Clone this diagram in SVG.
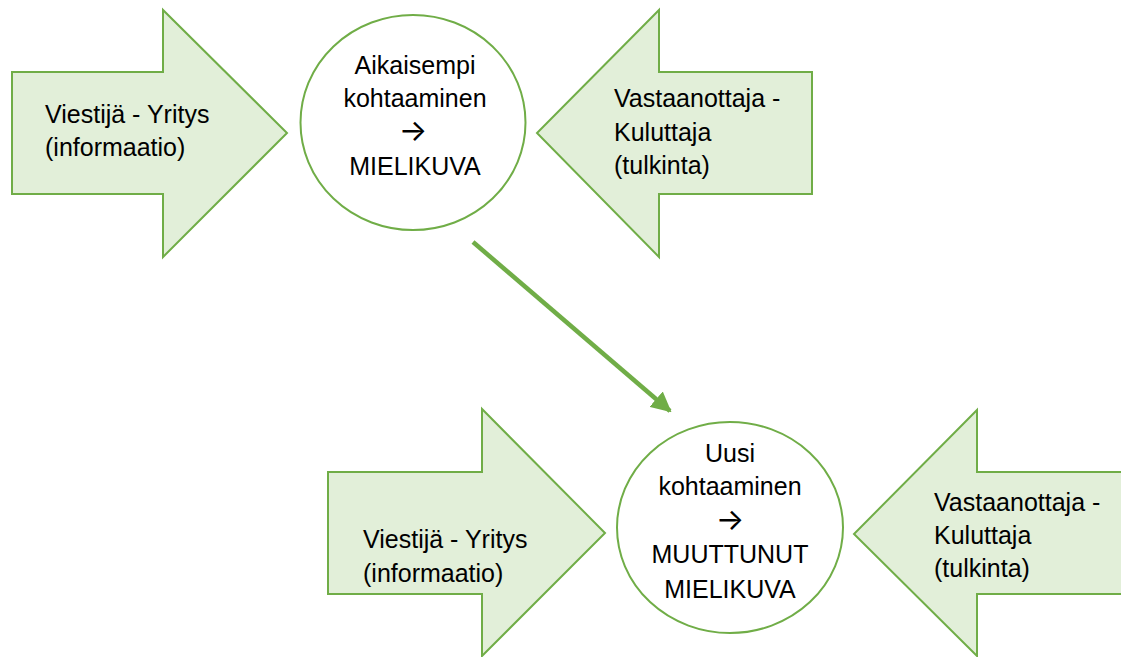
<svg xmlns="http://www.w3.org/2000/svg" width="1121" height="657" viewBox="0 0 1121 657">
<defs>
<style>
.blk{fill:#e2efd9;stroke:#70ad47;stroke-width:2;stroke-linejoin:miter}
.circ{fill:#ffffff;stroke:#70ad47;stroke-width:2}
.t{font-family:"Liberation Sans",Arial,sans-serif;font-size:25px;fill:#000}
.c{text-anchor:middle}
.ar{font-family:Inter,"DejaVu Sans",sans-serif;font-size:30px;fill:#000;text-anchor:middle}
.conn{stroke:#70ad47;stroke-width:4.5;fill:none}
</style>
<marker id="ah" viewBox="0 0 10 10" refX="9" refY="5" markerWidth="4.5" markerHeight="4.5" orient="auto" markerUnits="strokeWidth">
<path d="M0,0 L10,5 L0,10 z" fill="#70ad47"/>
</marker>
</defs>
<rect width="1121" height="657" fill="#ffffff"/>
<g id="arrow-top-left">
<polygon class="blk" points="12,72 163,72 163,10 287,133 163,257 163,194 12,194"/>
<text class="t" x="45" y="123">Viestijä - Yritys</text>
<text class="t" x="45" y="156">(informaatio)</text>
</g>
<g id="circle-top">
<ellipse class="circ" cx="413" cy="122.5" rx="112.5" ry="107.5"/>
<text class="t c" x="415" y="74">Aikaisempi</text>
<text class="t c" x="415" y="107">kohtaaminen</text>
<text class="ar" x="413" y="141">→</text>
<text class="t c" x="415" y="175">MIELIKUVA</text>
</g>
<g id="arrow-top-right">
<polygon class="blk" points="812,72 659,72 659,10 537,133 659,257 659,194 812,194"/>
<text class="t" x="614" y="107">Vastaanottaja -</text>
<text class="t" x="614" y="141">Kuluttaja</text>
<text class="t" x="614" y="174">(tulkinta)</text>
</g>
<g id="arrow-bottom-left">
<polygon class="blk" points="328,472 482,472 482,409 605,533 482,656 482,594 328,594"/>
<text class="t" x="363" y="548">Viestijä - Yritys</text>
<text class="t" x="363" y="582">(informaatio)</text>
</g>
<g id="circle-bottom">
<ellipse class="circ" cx="730" cy="527.5" rx="113" ry="105.5"/>
<text class="t c" x="730" y="462">Uusi</text>
<text class="t c" x="730" y="495">kohtaaminen</text>
<text class="ar" x="730" y="530">→</text>
<text class="t c" x="730" y="563">MUUTTUNUT</text>
<text class="t c" x="730" y="598">MIELIKUVA</text>
</g>
<g id="arrow-bottom-right">
<polygon class="blk" points="1130,472 977,472 977,410 854,534 977,656 977,594 1130,594"/>
<text class="t" x="934" y="511">Vastaanottaja -</text>
<text class="t" x="934" y="544">Kuluttaja</text>
<text class="t" x="934" y="577">(tulkinta)</text>
</g>
<g id="connectors">
<line class="conn" x1="473" y1="242" x2="670" y2="411" marker-end="url(#ah)"/>
</g>
</svg>
